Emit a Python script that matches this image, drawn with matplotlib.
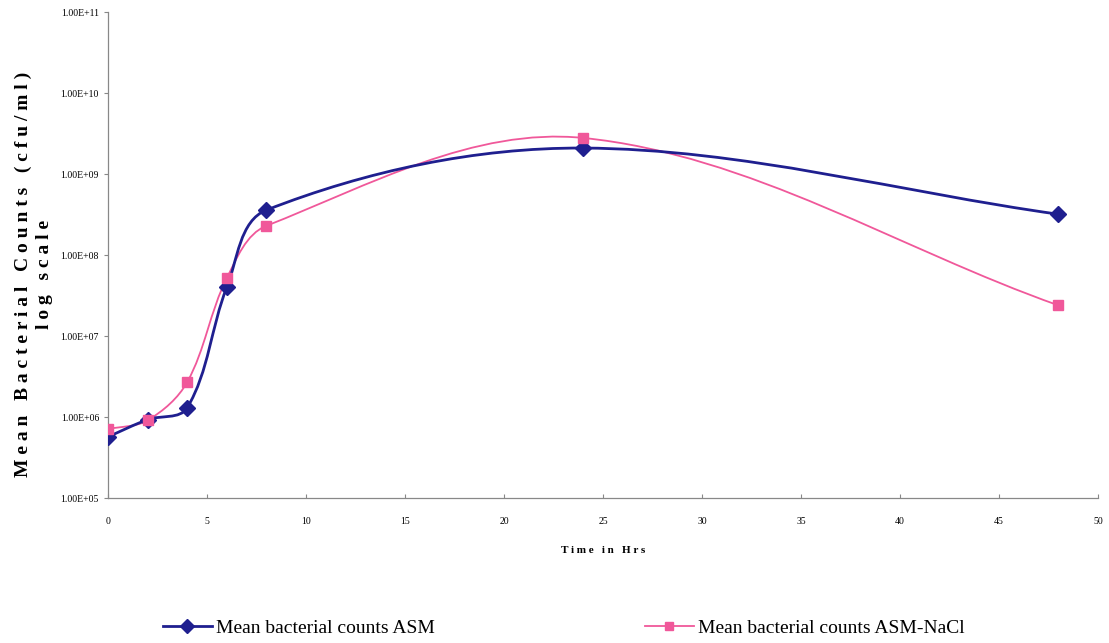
import numpy as np
import matplotlib
matplotlib.use("Agg")
import matplotlib.pyplot as plt
from matplotlib.path import Path
from matplotlib.patches import PathPatch
from matplotlib.lines import Line2D

hours = [0, 2, 4, 6, 8, 24, 48]
asm_counts = [5.7e5, 9.3e5, 1.3e6, 4.0e7, 3.6e8, 2.1e9, 3.2e8]
nacl_counts = [7.1e5, 9.1e5, 2.7e6, 5.2e7, 2.3e8, 2.8e9, 2.4e7]

blue = "#1f1f8f"
pink = "#f0589a"


def smooth_path(x, y, sx=19.8, sy=81.0):
    # smoothed line through the points, built in screen-like (x, log y) space
    p = np.column_stack([np.asarray(x, float) * sx,
                         np.log10(np.asarray(y, float)) * sy])
    n = len(p)
    tang = []
    for i in range(n):
        d = p[min(i + 1, n - 1)] - p[max(i - 1, 0)]
        tang.append(d / np.hypot(*d))
    verts = [tuple(p[0])]
    codes = [Path.MOVETO]
    for i in range(n - 1):
        seg = np.hypot(*(p[i + 1] - p[i])) / 3.0
        c1 = p[i] + tang[i] * seg
        c2 = p[i + 1] - tang[i + 1] * seg
        verts += [tuple(c1), tuple(c2), tuple(p[i + 1])]
        codes += [Path.CURVE4] * 3
    verts = [(vx / sx, 10 ** (vy / sy)) for vx, vy in verts]
    return Path(verts, codes)


plt.rcParams["font.family"] = ["Liberation Serif", "DejaVu Serif"]

fig = plt.figure(figsize=(11.09, 6.43), dpi=100)
ax = fig.add_axes([0.0974, 0.2255, 0.8926, 0.7555])
ax.set_yscale("log")
ax.set_xlim(0, 50)
ax.set_ylim(1e5, 1e11)

ax.add_patch(PathPatch(smooth_path(hours, nacl_counts), facecolor="none",
                       edgecolor=pink, lw=1.3, zorder=2))
ax.add_patch(PathPatch(smooth_path(hours, asm_counts), facecolor="none",
                       edgecolor=blue, lw=2.0, zorder=3))
ax.plot(hours, asm_counts, ls="none", marker="D", ms=8, color=blue, zorder=4)
ax.plot(hours, nacl_counts, ls="none", marker="s", ms=7, color=pink, zorder=5)

ax.set_xticks(range(0, 51, 5))
ax.set_yticks([10.0 ** k for k in range(5, 12)])
ax.set_yticklabels(["1.00E+%02d" % k for k in range(5, 12)])
ax.minorticks_off()
ax.tick_params(axis="y", labelsize=7, length=3, color="#888888", direction="out")
ax.tick_params(axis="x", labelsize=7, length=3, color="#888888", direction="in", pad=14)
for s in ["top", "right"]:
    ax.spines[s].set_visible(False)
for s in ["left", "bottom"]:
    ax.spines[s].set_color("#888888")
    ax.spines[s].set_linewidth(0.9)

ax.set_xlabel("T i m e   i n   H r s", fontsize=8, fontweight="bold", labelpad=14)
ax.set_ylabel("M e a n   B a c t e r i a l   C o u n t s   ( c f u / m l )\nl o g   s c a l e",
              fontsize=14, fontweight="bold", linespacing=1.3)
ax.yaxis.set_label_coords(-0.056, 0.46)

h1 = Line2D([], [], color=blue, lw=2.0, marker="D", ms=7)
h2 = Line2D([], [], color=pink, lw=1.3, marker="s", ms=6)
leg1 = fig.legend([h1], ["Mean bacterial counts ASM"], loc="center left",
                  bbox_to_anchor=(163 / 1109, 0.023), frameon=False, fontsize=14,
                  handlelength=2.5, handletextpad=0.2, borderpad=0, borderaxespad=0)
leg2 = fig.legend([h2], ["Mean bacterial counts ASM-NaCl"], loc="center left",
                  bbox_to_anchor=(645 / 1109, 0.023), frameon=False, fontsize=14,
                  handlelength=2.5, handletextpad=0.2, borderpad=0, borderaxespad=0)

fig.savefig("out.png", dpi=100, facecolor="white")
